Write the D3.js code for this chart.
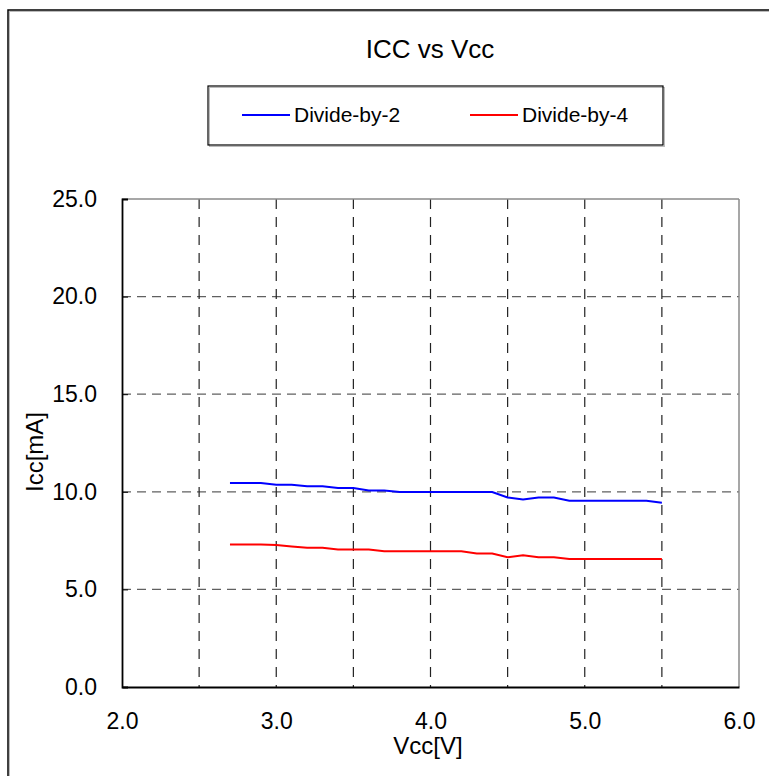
<!DOCTYPE html>
<html><head><meta charset="utf-8">
<script src="https://cdn.jsdelivr.net/npm/d3@7"></script>
<style>body{margin:0;background:#fff}svg{display:block;font-family:"Liberation Sans",Arial,sans-serif}</style>
</head><body>
<script>
const vcc = [2.7,2.8,2.9,3.0,3.1,3.2,3.3,3.4,3.5,3.6,3.7,3.8,3.9,4.0,4.1,4.2,4.3,4.4,4.5,4.6,4.7,4.8,4.9,5.0,5.1,5.2,5.3,5.4,5.5];
const div2 = [10.45,10.45,10.45,10.36,10.36,10.29,10.29,10.19,10.19,10.07,10.07,9.99,9.99,9.99,9.99,9.99,9.99,9.99,9.71,9.61,9.71,9.71,9.54,9.54,9.54,9.54,9.54,9.54,9.44];
const div4 = [7.30,7.30,7.30,7.28,7.20,7.13,7.13,7.05,7.05,7.05,6.96,6.96,6.96,6.96,6.96,6.96,6.84,6.84,6.65,6.75,6.65,6.65,6.56,6.56,6.56,6.56,6.56,6.56,6.56];
const xTicks = [2.0,3.0,4.0,5.0,6.0];
const yTicks = [0,5,10,15,20,25];
const xGrid = [2.5,3.0,3.5,4.0,4.5,5.0,5.5];
const yGrid = [5,10,15,20];
const seriesNames = ["Divide-by-2","Divide-by-4"];
const seriesColors = ["#0000ff","#ff0000"];

const W=769,H=776;
const FONT="Liberation Sans, Arial, sans-serif";
const svg=d3.select("body").append("svg").attr("width",W).attr("height",H);
// outer frame
svg.append("rect").attr("x",9.5).attr("y",11.5).attr("width",800).attr("height",800).attr("fill","none").attr("stroke","#bbb").attr("stroke-width",1);
svg.append("rect").attr("x",8).attr("y",10).attr("width",800).attr("height",800).attr("fill","none").attr("stroke","#000").attr("stroke-width",1.5);

const L=122,R=739,T=199,B=687;
const x=d3.scaleLinear().domain([2,6]).range([L,R]);
const y=d3.scaleLinear().domain([0,25]).range([B,T]);

// grid
svg.append("g").selectAll("line").data(yGrid).join("line")
 .attr("x1",L).attr("x2",R).attr("y1",d=>y(d)).attr("y2",d=>y(d))
 .attr("stroke","#606060").attr("stroke-width",1.3).attr("stroke-dasharray","9,6");
svg.append("g").selectAll("line").data(xGrid).join("line")
 .attr("x1",d=>x(d)).attr("x2",d=>x(d)).attr("y1",T).attr("y2",B)
 .attr("stroke","#222").attr("stroke-width",1.2).attr("stroke-dasharray","10,8");

// plot border: top/right gray
svg.append("line").attr("x1",L).attr("x2",R).attr("y1",T).attr("y2",T).attr("stroke","#8a8a8a").attr("stroke-width",1.5);
svg.append("line").attr("x1",R).attr("x2",R).attr("y1",T).attr("y2",B).attr("stroke","#8a8a8a").attr("stroke-width",1.5);

// axes
const yAxis=d3.axisLeft(y).tickValues(yTicks).tickFormat(d3.format(".1f")).tickSize(-6).tickPadding(25);
const ga=svg.append("g").attr("transform",`translate(${L},0)`).call(yAxis);
ga.select(".domain").attr("stroke","#000").attr("stroke-width",1.8);
ga.selectAll(".tick line").attr("stroke","#000");
ga.selectAll("text").attr("font-size",23).attr("fill","#000").attr("font-family",FONT);

const xAxis=d3.axisBottom(x).tickValues(xTicks).tickFormat(d3.format(".1f")).tickSize(0).tickPadding(26);
const gx=svg.append("g").attr("transform",`translate(0,${B})`).call(xAxis);
gx.select(".domain").attr("stroke","#000").attr("stroke-width",1.8);
gx.selectAll("text").attr("font-size",23).attr("fill","#000").attr("font-family",FONT);

// lines
const line=d3.line().x((d,i)=>x(vcc[i])).y(d=>y(d));
[div2,div4].forEach((s,k)=>{
 svg.append("path").datum(s).attr("d",line).attr("fill","none").attr("stroke",seriesColors[k]).attr("stroke-width",2);
});

// title & labels
svg.append("text").attr("x",430).attr("y",58).attr("text-anchor","middle").attr("font-size",26).text("ICC vs Vcc");
svg.append("text").attr("x",428).attr("y",754).attr("text-anchor","middle").attr("font-size",24).text("Vcc[V]");
svg.append("text").attr("transform","translate(43,452) rotate(-90)").attr("text-anchor","middle").attr("font-size",24).text("Icc[mA]");

// legend
svg.append("rect").attr("x",209.5).attr("y",87.5).attr("width",455).attr("height",59).attr("fill","none").attr("stroke","#bbb").attr("stroke-width",1);
svg.append("rect").attr("x",208).attr("y",86).attr("width",455).attr("height",59).attr("fill","none").attr("stroke","#000").attr("stroke-width",1.2);
const lx=[242,470];
seriesNames.forEach((n,k)=>{
 svg.append("line").attr("x1",lx[k]).attr("x2",lx[k]+48).attr("y1",115).attr("y2",115).attr("stroke",seriesColors[k]).attr("stroke-width",2);
 svg.append("text").attr("x",lx[k]+52).attr("y",122).attr("font-size",21).text(n);
});
</script>
</body></html>
